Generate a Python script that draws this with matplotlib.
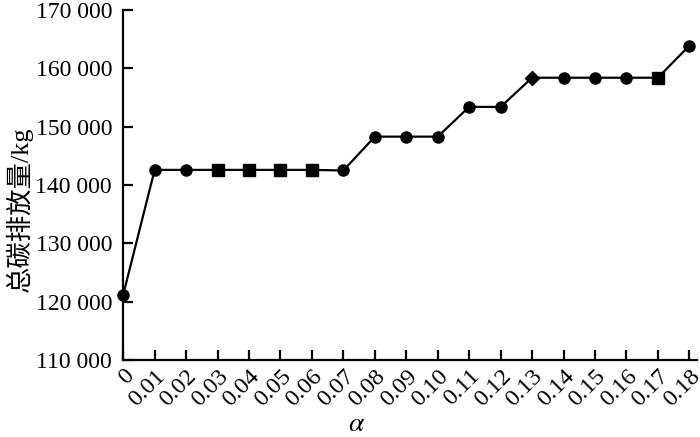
import matplotlib
matplotlib.use("Agg")
import matplotlib.pyplot as plt
import matplotlib.transforms as mtransforms
from matplotlib.ticker import FuncFormatter

plt.rcParams['font.family'] = ['Liberation Serif', 'Noto Sans CJK SC']
plt.rcParams['mathtext.fontset'] = 'stix'

# data
alpha = [0, 0.01, 0.02, 0.03, 0.04, 0.05, 0.06, 0.07, 0.08, 0.09,
         0.10, 0.11, 0.12, 0.13, 0.14, 0.15, 0.16, 0.17, 0.18]
emission = [121200, 142600, 142600, 142600, 142600, 142600, 142600, 142500,
            148300, 148300, 148300, 153400, 153400, 158400, 158400, 158400,
            158400, 158400, 163900]
markers = ['o', 'o', 'o', 's', 's', 's', 's', 'o', 'o', 'o',
           'o', 'o', 'o', 'D', 'o', 'o', 'o', 's', 'o']
tick_labels = ['0', '0.01', '0.02', '0.03', '0.04', '0.05', '0.06', '0.07',
               '0.08', '0.09', '0.10', '0.11', '0.12', '0.13', '0.14', '0.15',
               '0.16', '0.17', '0.18']

fig = plt.figure(figsize=(7, 4.37), dpi=100)
ax = fig.add_axes([0.176, 0.176, 0.82, 0.801])

ax.plot(alpha, emission, color='black', lw=1.6, zorder=2)
for x, y, m in zip(alpha, emission, markers):
    ax.plot(x, y, marker=m, color='black', ms=8 if m != 'D' else 7,
            linestyle='none', zorder=3, clip_on=False)

ax.set_xlim(0, 0.1825)
ax.set_ylim(110000, 170000)
ax.set_xticks(alpha)
ax.set_xticklabels(tick_labels, rotation=45, ha='right', va='top',
                   rotation_mode='anchor')
shift = mtransforms.ScaledTranslation(3 / 100, 0, fig.dpi_scale_trans)
for lab in ax.get_xticklabels():
    lab.set_transform(lab.get_transform() + shift)
ax.set_yticks(range(110000, 170001, 10000))
ax.yaxis.set_major_formatter(FuncFormatter(lambda v, p: f"{int(v):,}".replace(',', ' ')))

for s in ['top', 'right']:
    ax.spines[s].set_visible(False)
for s in ['left', 'bottom']:
    ax.spines[s].set_linewidth(1.6)
ax.tick_params(direction='in', length=7, width=1.6, labelsize=17, pad=8)
ax.tick_params(axis='x', labelsize=17.5, pad=4)

ax.set_xlabel(r'$\alpha$', fontsize=20)
ax.xaxis.set_label_coords(0.407, -0.148)
ax.set_ylabel('总碳排放量/kg', fontsize=19)
ax.yaxis.set_label_coords(-0.158, 0.431)

fig.savefig('out.png', dpi=100)
